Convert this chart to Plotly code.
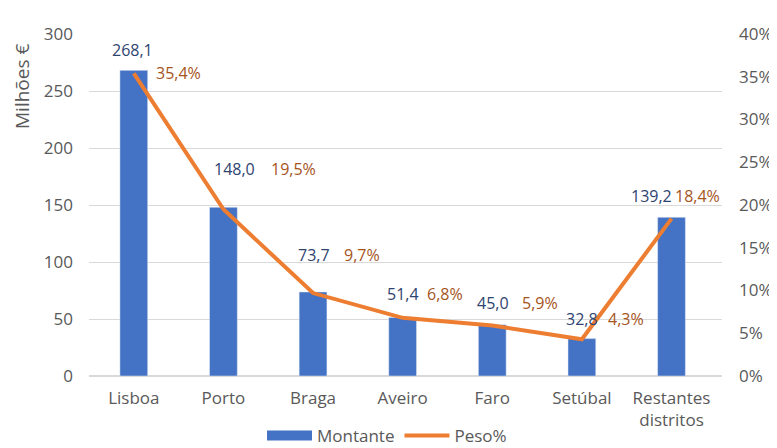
import plotly.graph_objects as go

categories = ["Lisboa", "Porto", "Braga", "Aveiro", "Faro", "Setúbal", "Restantes<br>distritos"]
montante = [268.1, 148.0, 73.7, 51.4, 45.0, 32.8, 139.2]
peso = [0.354, 0.195, 0.097, 0.068, 0.059, 0.043, 0.184]

left_ticks = [0, 50, 100, 150, 200, 250, 300]
right_ticks = [0, 0.05, 0.10, 0.15, 0.20, 0.25, 0.30, 0.35, 0.40]
right_ticktext = ["0%", "5%", "10%", "15%", "20%", "25%", "30%", "35%", "40%"]

# label offsets (pixels) relative to their marks
val_xshift = [-1, 11, 1, 0, 1, 0, -20]
val_yshift = [20, 38, 37, 23, 22, 20, 21]
pct_xshift = [45, 70, 49, 42, 48, 44, 26]
pct_yshift = [0, 40, 38, 24, 23, 20, 23]

FONT = "Open Sans"
GRAY = "#595959"
BLUE = "#4472C4"
ORANGE = "#ED7D31"
VAL_COLOR = "#2E4470"
PCT_COLOR = "#A5541C"

OFF = 8  # page body margin offset
W, H = 777 - OFF, 448 - OFF
L, R, T, B = 89 - OFF, 722 - OFF, 34 - OFF, 376 - OFF

fig = go.Figure()
fig.add_trace(go.Bar(x=categories, y=montante, name="Montante", marker_color=BLUE,
                     width=0.31, yaxis="y", showlegend=False))
fig.add_trace(go.Scatter(x=[None], y=[None], name="Montante", mode="lines",
                         line=dict(color=BLUE, width=11), yaxis="y"))
fig.add_trace(go.Scatter(x=categories, y=peso, name="Peso%", mode="lines",
                         line=dict(color=ORANGE, width=4), yaxis="y2"))

def fmt(v, d=1):
    return f"{v:.{d}f}".replace(".", ",")

annotations = []
for i, c in enumerate(categories):
    annotations.append(dict(x=c, y=montante[i], xref="x", yref="y", text=fmt(montante[i]),
                            showarrow=False, xshift=val_xshift[i], yshift=val_yshift[i],
                            font=dict(family=FONT, size=16, color=VAL_COLOR)))
    annotations.append(dict(x=c, y=peso[i], xref="x", yref="y2", text=fmt(peso[i] * 100) + "%",
                            showarrow=False, xshift=pct_xshift[i], yshift=pct_yshift[i],
                            font=dict(family=FONT, size=16, color=PCT_COLOR)))
annotations.append(dict(x=(22 - OFF - L) / (R - L), y=(B - (87 - OFF)) / (B - T),
                        xref="paper", yref="paper",
                        text="Milhões €", showarrow=False, textangle=-90,
                        xanchor="center", yanchor="middle",
                        font=dict(family=FONT, size=19, color=GRAY)))

fig.update_layout(
    width=W, height=H,
    margin=dict(l=L, r=W - R, t=T, b=H - B, autoexpand=False),
    paper_bgcolor="white", plot_bgcolor="white",
    font=dict(family=FONT, size=17, color=GRAY),
    separators=", ",
    xaxis=dict(showgrid=False, showline=False, ticks="", tickfont=dict(size=17, color=GRAY),
               ticklabelstandoff=10, automargin=False),
    yaxis=dict(range=[0, 300], tickvals=left_ticks, showgrid=True, gridcolor="#D9D9D9",
               gridwidth=1, zeroline=True, zerolinecolor="#D9D9D9", showline=False,
               tickfont=dict(size=17, color=GRAY), ticklabelstandoff=15, automargin=False),
    yaxis2=dict(range=[0, 0.4], overlaying="y", side="right", tickvals=right_ticks,
                ticktext=right_ticktext, showgrid=False, zeroline=False, showline=False,
                tickfont=dict(size=17, color=GRAY), ticklabelstandoff=16, automargin=False),
    legend=dict(orientation="h", x=(387 - OFF - L) / (R - L), xanchor="center",
                y=(B - (436 - OFF)) / (B - T), yanchor="middle",
                font=dict(size=17, color=GRAY), itemwidth=45, traceorder="normal",
                tracegroupgap=0, bgcolor="rgba(0,0,0,0)"),
    showlegend=True,
    annotations=annotations,
)

fig.write_html("out.html")
